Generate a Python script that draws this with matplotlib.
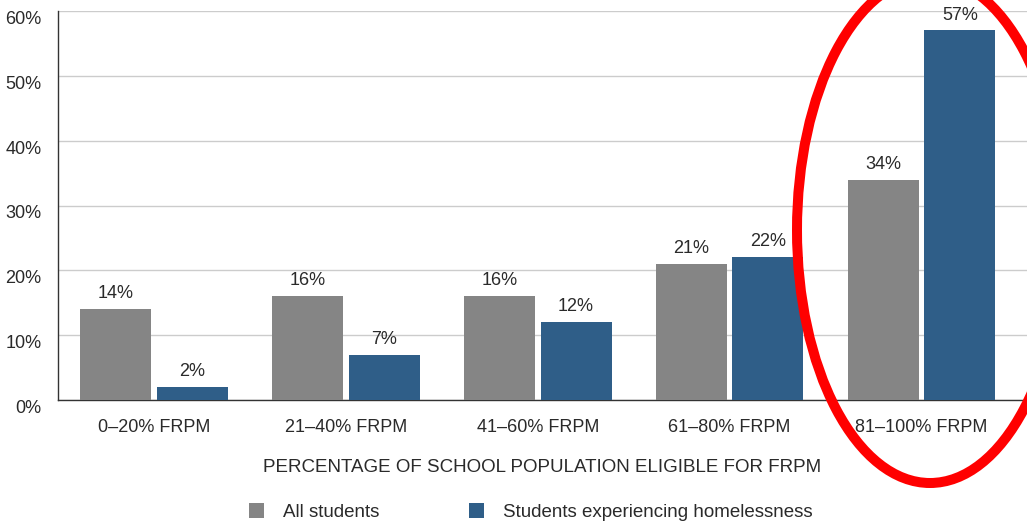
import matplotlib
matplotlib.use("Agg")
import matplotlib.pyplot as plt
from matplotlib.patches import Ellipse, Patch
import numpy as np

categories = ["0\u201320% FRPM", "21\u201340% FRPM", "41\u201360% FRPM", "61\u201380% FRPM", "81\u2013100% FRPM"]
all_students = [14, 16, 16, 21, 34]
homeless = [2, 7, 12, 22, 57]
yticks = [0, 10, 20, 30, 40, 50, 60]
series_names = ["All students", "Students experiencing homelessness"]

gray = "#858585"
blue = "#2f5e88"
txt = "#2a2a2a"

plt.rcParams['font.family'] = ['Liberation Sans', 'DejaVu Sans']

fig = plt.figure(figsize=(10.27, 5.25), dpi=100)
ax = fig.add_axes([58/1027, 1-400/525, 1-58/1027, (400-11)/525])

x = np.arange(len(categories))
w = 0.37
off = 0.2
b1 = ax.bar(x - off, all_students, w, color=gray, zorder=3)
b2 = ax.bar(x + off, homeless, w, color=blue, zorder=3)

for bars, vals in ((b1, all_students), (b2, homeless)):
    for r, v in zip(bars, vals):
        ax.annotate(f"{v}%", (r.get_x() + r.get_width()/2, v), xytext=(0, 5),
                    textcoords="offset points", ha="center", va="bottom",
                    fontsize=13, color=txt)

ax.set_xlim(-0.5, 4.55)
ax.set_ylim(0, 60)
ax.set_yticks(yticks)
ax.set_yticklabels([f"{t}%" for t in yticks], fontsize=13, color=txt)
ax.set_xticks(x)
ax.set_xticklabels(categories, fontsize=13, color=txt)
ax.tick_params(axis='both', length=0)
ax.tick_params(axis='x', pad=14)
ax.tick_params(axis='y', pad=12)
for lab in ax.get_yticklabels():
    lab.set_va("top")
ax.yaxis.grid(True, color="#cccccc", linewidth=1, zorder=0)
ax.set_axisbelow(True)
for s in ("top", "right"):
    ax.spines[s].set_visible(False)
ax.spines["left"].set_color("#333333")
ax.spines["bottom"].set_color("#333333")
ax.spines["left"].set_linewidth(1)
ax.spines["bottom"].set_linewidth(1)

ax.set_xlabel("PERCENTAGE OF SCHOOL POPULATION ELIGIBLE FOR FRPM", fontsize=13.5, color=txt, labelpad=16)

handles = [Patch(facecolor=gray, edgecolor='none'), Patch(facecolor=blue, edgecolor='none')]
fig.legend(handles, series_names, loc="center", bbox_to_anchor=(531/1027, 1-512/525),
           ncol=2, frameon=False, fontsize=13.5, handlelength=0.8, handleheight=0.8,
           handletextpad=1.0, columnspacing=4.8, labelcolor=txt)

# red highlight ellipse (figure pixel-based fractions)
ell = Ellipse((930/1027, 1-230/525), 266/1027, 506/525, transform=fig.transFigure,
              fill=False, edgecolor="#ff0000", linewidth=7.2, zorder=10, clip_on=False)
fig.patches.append(ell)

fig.savefig("out.png", dpi=100)
